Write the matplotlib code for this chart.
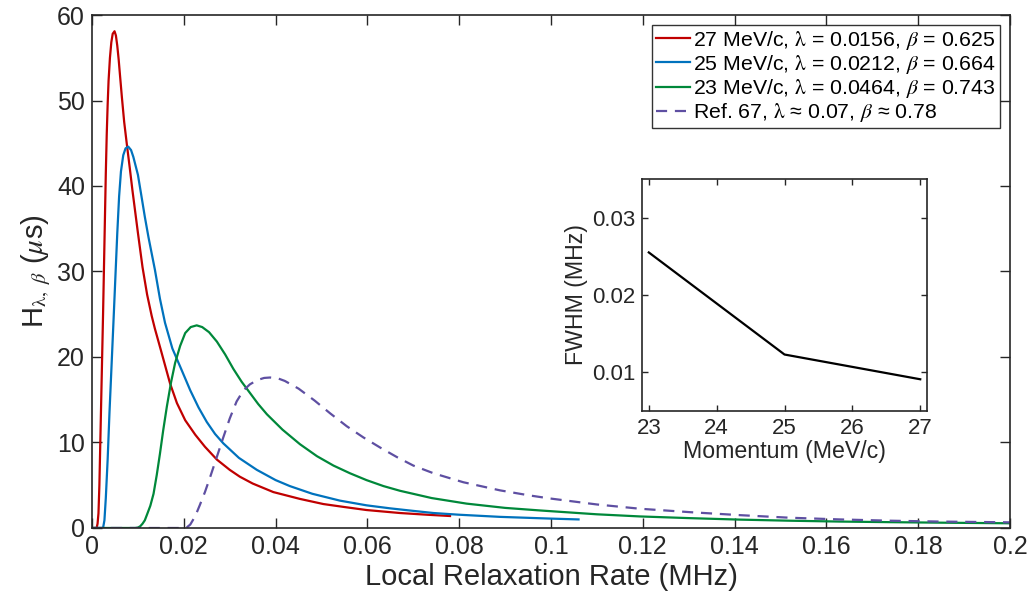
import matplotlib
matplotlib.use("Agg")
import matplotlib.pyplot as plt

plt.rcParams['font.family'] = ['Liberation Sans', 'DejaVu Sans']
plt.rcParams['mathtext.fontset'] = 'stix'

# Relaxation rate distributions (x in MHz, y in us)
red_x = [0.0, 0.0010, 0.0012, 0.0014, 0.0016, 0.0018, 0.0020, 0.0022, 0.0024, 0.0026,
         0.0028, 0.0030, 0.0032, 0.0034, 0.0036, 0.0039, 0.0042, 0.0045, 0.0049, 0.0052,
         0.0055, 0.0058, 0.0061, 0.0065, 0.0070, 0.0076, 0.0082, 0.0088, 0.0094, 0.0100,
         0.0110, 0.0120, 0.0130, 0.0137, 0.0150, 0.0170, 0.0185, 0.0203, 0.0225, 0.0246,
         0.0272, 0.0300, 0.0322, 0.0350, 0.0395, 0.0453, 0.0504, 0.0550, 0.0598, 0.0671,
         0.0730, 0.0780]
red_y = [0.0, 0.0, 0.5, 1.7, 5.0, 10.0, 15.0, 20.0, 25.0, 30.5,
         36.0, 41.5, 46.0, 49.5, 52.3, 55.0, 56.8, 57.8, 58.1, 57.6,
         56.4, 54.8, 52.9, 50.4, 47.5, 44.8, 42.2, 39.5, 37.0, 34.5,
         30.5, 27.3, 24.8, 23.3, 20.8, 16.9, 14.6, 12.6, 10.9, 9.5,
         8.0, 6.8, 6.0, 5.2, 4.2, 3.4, 2.8, 2.45, 2.1, 1.75,
         1.55, 1.4]

blue_x = [0.0, 0.0024, 0.0027, 0.0030, 0.0034, 0.0038, 0.0043, 0.0047, 0.0051, 0.0055,
          0.0059, 0.0063, 0.0068, 0.0073, 0.0079, 0.0085, 0.0090, 0.0100, 0.0108, 0.0115,
          0.0123, 0.0137, 0.0148, 0.0159, 0.0175, 0.0195, 0.0214, 0.0232, 0.0250, 0.0268,
          0.0286, 0.0320, 0.0359, 0.0400, 0.0431, 0.0480, 0.0540, 0.0598, 0.0649, 0.0700,
          0.0744, 0.0800, 0.0889, 0.0998, 0.1060]
blue_y = [0.0, 0.0, 0.9, 3.5, 8.0, 13.5, 19.6, 24.5, 29.5, 34.5,
          38.8, 41.7, 43.6, 44.4, 44.6, 44.2, 43.4, 41.3, 38.7, 36.4,
          34.0, 30.2, 26.8, 24.0, 21.0, 18.5, 16.1, 14.1, 12.4, 11.0,
          9.9, 8.2, 6.8, 5.6, 4.9, 4.0, 3.2, 2.65, 2.3, 2.0,
          1.75, 1.55, 1.3, 1.1, 1.0]

green_x = [0.0, 0.0094, 0.0100, 0.0105, 0.0110, 0.0115, 0.0120, 0.0127, 0.0134, 0.0141,
           0.0148, 0.0155, 0.0163, 0.0172, 0.0181, 0.0192, 0.0203, 0.0215, 0.0228, 0.0240,
           0.0255, 0.0272, 0.0290, 0.0308, 0.0326, 0.0344, 0.0362, 0.0381, 0.0415, 0.0453,
           0.0490, 0.0526, 0.0562, 0.0598, 0.0635, 0.0671, 0.0740, 0.0816, 0.0900, 0.0976,
           0.1100, 0.1194, 0.1303, 0.1410, 0.1520, 0.1630, 0.1740, 0.1850, 0.2000]
green_y = [0.0, 0.0, 0.05, 0.2, 0.5, 0.9, 1.6, 2.6, 4.0, 6.2,
           8.7, 11.4, 14.2, 17.0, 19.3, 21.3, 22.8, 23.5, 23.7, 23.5,
           22.9, 21.8, 20.3, 18.6, 17.1, 15.8, 14.5, 13.3, 11.5, 9.8,
           8.4, 7.3, 6.4, 5.6, 4.9, 4.35, 3.5, 2.85, 2.35, 2.05,
           1.6, 1.35, 1.15, 0.98, 0.85, 0.75, 0.68, 0.62, 0.55]

ref_x = [0.0, 0.0199, 0.0207, 0.0214, 0.0225, 0.0235, 0.0246, 0.0257, 0.0270, 0.0286,
         0.0300, 0.0315, 0.0330, 0.0344, 0.0360, 0.0375, 0.0388, 0.0405, 0.0420, 0.0450,
         0.0485, 0.0519, 0.0555, 0.0591, 0.0628, 0.0664, 0.0700, 0.0744, 0.0809, 0.0889,
         0.0954, 0.0998, 0.1100, 0.1194, 0.1303, 0.1412, 0.1520, 0.1630, 0.1740, 0.1847,
         0.2000]
ref_y = [0.0, 0.0, 0.1, 0.4, 1.4, 2.7, 4.2, 5.9, 8.0, 10.6,
         12.8, 14.8, 16.1, 16.8, 17.3, 17.55, 17.6, 17.5, 17.2, 16.3,
         14.9, 13.4, 11.9, 10.6, 9.4, 8.3, 7.3, 6.4, 5.35, 4.4,
         3.8, 3.45, 2.75, 2.25, 1.85, 1.5, 1.2, 1.0, 0.85, 0.75,
         0.66]

labels = [r'27 MeV/c, $\mathrm{\lambda}$ = 0.0156, $\beta$ = 0.625',
          r'25 MeV/c, $\mathrm{\lambda}$ = 0.0212, $\beta$ = 0.664',
          r'23 MeV/c, $\mathrm{\lambda}$ = 0.0464, $\beta$ = 0.743',
          r'Ref. 67, $\mathrm{\lambda}$ ≈ 0.07, $\beta$ ≈ 0.78']

# inset: FWHM vs momentum
momentum = [23, 25, 27]
fwhm = [0.0255, 0.0123, 0.0091]

ink = '#262626'

fig = plt.figure(figsize=(10.33, 6.05), dpi=100)
ax = fig.add_axes([0.0891, 0.1273, 0.8886, 0.8479])
ax.plot(red_x, red_y, color='#C00000', lw=1.6, label=labels[0])
ax.plot(blue_x, blue_y, color='#0072BD', lw=1.6, label=labels[1])
ax.plot(green_x, green_y, color='#00883A', lw=1.6, label=labels[2])
ax.plot(ref_x, ref_y, color='#5E4FA2', lw=1.6, ls='--', dashes=(5, 3.5), label=labels[3])

ax.set_xlim(0, 0.2)
ax.set_ylim(0, 60)
ax.set_xticks([0, 0.02, 0.04, 0.06, 0.08, 0.1, 0.12, 0.14, 0.16, 0.18, 0.2])
ax.set_xticklabels(['0', '0.02', '0.04', '0.06', '0.08', '0.1', '0.12', '0.14', '0.16', '0.18', '0.2'])
ax.set_yticks([0, 10, 20, 30, 40, 50, 60])
ax.tick_params(direction='in', length=7, width=1, top=True, right=True,
               labelsize=18, colors=ink, pad=5)
for s in ax.spines.values():
    s.set_color(ink)
    s.set_linewidth(1.2)
ax.set_xlabel('Local Relaxation Rate (MHz)', fontsize=21, color=ink, labelpad=3)
ax.set_ylabel(r'H$_{\mathrm{\lambda},\ \beta}$ ($\mu$s)', fontsize=21, color=ink, labelpad=3)

leg = ax.legend(loc='upper right', fontsize=15.3, frameon=True, fancybox=False,
                handlelength=1.6, handletextpad=0.15, labelspacing=0.05,
                borderpad=0.2, borderaxespad=0.45)
leg.get_frame().set_edgecolor('black')
leg.get_frame().set_linewidth(1.0)

ins = fig.add_axes([0.6215, 0.3207, 0.2759, 0.3835])
ins.plot(momentum, fwhm, color='black', lw=1.6)
ins.set_xlim(22.9, 27.1)
ins.set_ylim(0.005, 0.035)
ins.set_xticks([23, 24, 25, 26, 27])
ins.set_yticks([0.01, 0.02, 0.03])
ins.set_yticklabels(['0.01', '0.02', '0.03'])
ins.tick_params(direction='in', length=4, width=1, top=True, right=True,
                labelsize=16, colors=ink, pad=5)
for s in ins.spines.values():
    s.set_color(ink)
    s.set_linewidth(1.2)
ins.set_xlabel('Momentum (MeV/c)', fontsize=16.7, color=ink, labelpad=1)
ins.set_ylabel('FWHM (MHz)', fontsize=16.7, color=ink, labelpad=3)

fig.savefig('out.png', dpi=100)
